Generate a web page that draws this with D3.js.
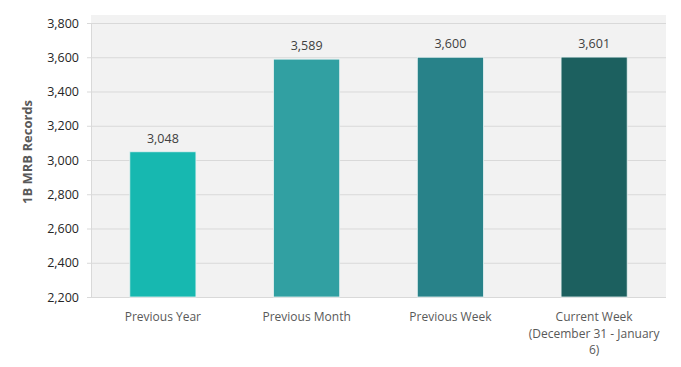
<!DOCTYPE html>
<html>
<head>
<meta charset="utf-8">
<script src="https://cdn.jsdelivr.net/npm/d3@7"></script>
<style>
  body { margin: 0; background: #fff; }
  text { font-family: "Open Sans", sans-serif; }
</style>
</head>
<body>
<div id="bar-chart"></div>
<script>
// chart data
const categories = ["Previous Year", "Previous Month", "Previous Week", "Current Week\n(December 31 - January\n6)"];
const values = [3048, 3589, 3600, 3601];
const barColors = ["#17b8b0", "#31a0a2", "#288289", "#1c605f"];
const yTicks = [2200, 2400, 2600, 2800, 3000, 3200, 3400, 3600, 3800];

function draw() {
  const margin = {top: 15, right: 15, bottom: 70, left: 91};
  const W = 681, H = 367;
  const width = W - margin.left - margin.right;
  const height = H - margin.top - margin.bottom;

  const svg = d3.select("#bar-chart")
    .append("svg")
    .attr("width", W)
    .attr("height", H);

  const chart = svg.append("g")
    .attr("transform", `translate(${margin.left}, ${margin.top})`);

  // plot area background
  chart.append("rect")
    .attr("width", width)
    .attr("height", height)
    .attr("fill", "#f2f2f2");

  const fmt = d3.format(",");

  // y scale (3800 gridline sits a bit below the top of the plot area)
  const yScale = d3.scaleLinear()
    .domain([2200, 3800])
    .range([height, 8]);

  const xScale = d3.scaleBand()
    .domain(categories)
    .range([0, width])
    .paddingInner(0.54)
    .paddingOuter(0.27);

  // gridlines + y axis labels
  chart.append("g")
    .call(d3.axisLeft(yScale)
      .tickValues(yTicks)
      .tickSize(-width)
      .tickPadding(12)
      .tickFormat(fmt))
    .call(g => g.select(".domain").attr("stroke", "#d9d9d9"))
    .call(g => g.selectAll(".tick line")
      .attr("stroke", "#d9d9d9")
      .attr("x1", -4))
    .call(g => g.selectAll(".tick text")
      .attr("fill", "#262626")
      .attr("font-size", 12.5));

  // bars
  chart.selectAll(".bar")
    .data(values)
    .join("rect")
    .attr("class", "bar")
    .attr("x", (d, i) => xScale(categories[i]))
    .attr("y", d => yScale(d))
    .attr("width", xScale.bandwidth())
    .attr("height", d => height - yScale(d))
    .attr("fill", (d, i) => barColors[i])
    .attr("stroke", "#e6f2f2")
    .attr("stroke-width", 0.8);

  // value labels
  chart.selectAll(".val")
    .data(values)
    .join("text")
    .attr("class", "val")
    .attr("x", (d, i) => xScale(categories[i]) + xScale.bandwidth() / 2)
    .attr("y", d => yScale(d) - 9)
    .attr("text-anchor", "middle")
    .attr("font-size", 12.5)
    .attr("fill", "#404040")
    .text(d => fmt(d));

  // category labels
  const catG = chart.append("g")
    .attr("transform", `translate(0, ${height})`);
  categories.forEach(c => {
    const t = catG.append("text")
      .attr("x", xScale(c) + xScale.bandwidth() / 2)
      .attr("y", 24)
      .attr("text-anchor", "middle")
      .attr("font-size", 12)
      .attr("fill", "#595959");
    c.split("\n").forEach((line, j) => {
      t.append("tspan")
        .attr("x", xScale(c) + xScale.bandwidth() / 2)
        .attr("dy", j === 0 ? 0 : 16.5)
        .text(line);
    });
  });

  // y axis title
  svg.append("text")
    .attr("transform", `translate(32, ${margin.top + height / 2 - 4}) rotate(-90)`)
    .attr("text-anchor", "middle")
    .attr("font-size", 13)
    .attr("font-weight", "bold")
    .attr("fill", "#595959")
    .text("1B MRB Records");
}

draw();
</script>
</body>
</html>
